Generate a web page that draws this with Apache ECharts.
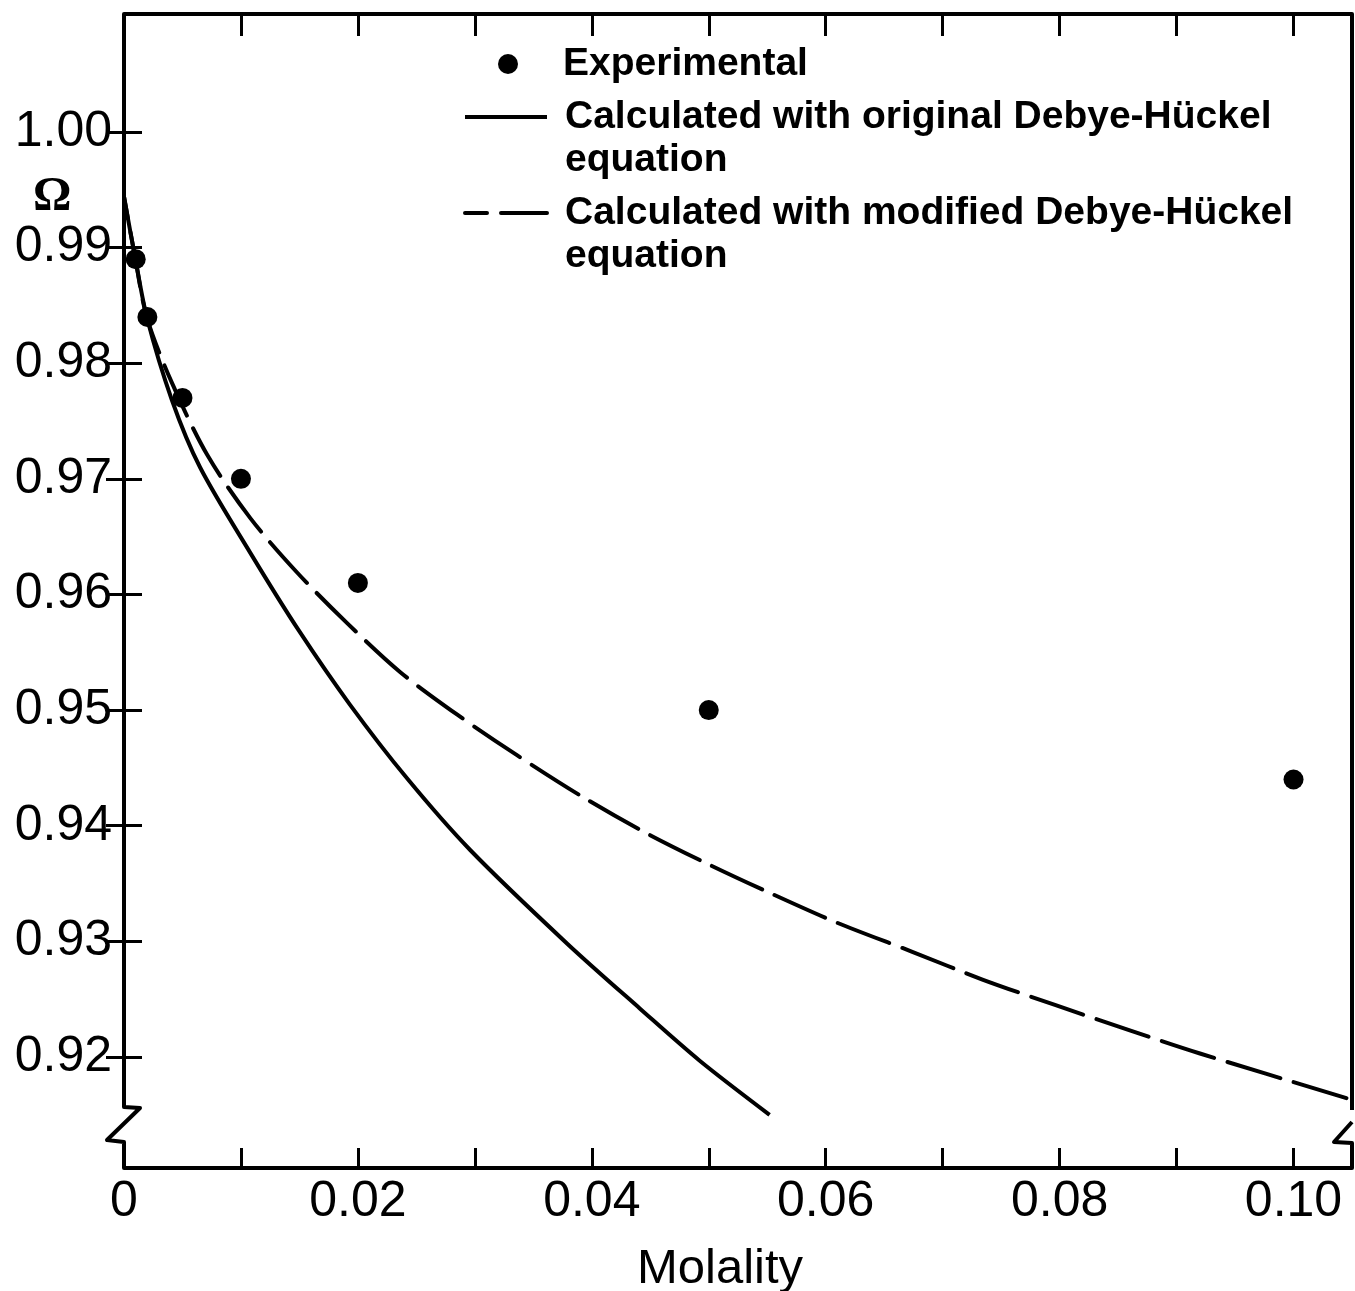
<!DOCTYPE html>
<html>
<head>
<meta charset="utf-8">
<title>Omega vs molality</title>
<script src="https://cdn.jsdelivr.net/npm/echarts@6/dist/echarts.min.js"></script>
<style>
  html, body { margin: 0; padding: 0; background: #fff; }
  #chart { width: 1355px; height: 1291px; }
</style>
</head>
<body>
<div id="chart"></div>
<script>
  // experimental points
  const molality = [0.001, 0.002, 0.005, 0.01, 0.02, 0.05, 0.10]
  const omegaExp = [0.989, 0.984, 0.977, 0.970, 0.961, 0.950, 0.944]

  // original Debye-Hückel curve
  const origX = [0, 0.00094, 0.00197, 0.0041, 0.0065, 0.0108, 0.0150, 0.0193, 0.0242, 0.0296, 0.0379, 0.0441, 0.0492, 0.0552]
  const origY = [0.9944, 0.9892, 0.9839, 0.9768, 0.9710, 0.9636, 0.9568, 0.9505, 0.9441, 0.9379, 0.9298, 0.9242, 0.9197, 0.9150]

  // modified Debye-Hückel curve
  const modX = [0, 0.00094, 0.00197, 0.0041, 0.0071, 0.0108, 0.0148, 0.0191, 0.0236, 0.0285, 0.0336, 0.0392, 0.0444, 0.0497, 0.0552, 0.0610, 0.0674, 0.0734, 0.0796, 0.0860, 0.0920, 0.1050]
  const modY = [0.9944, 0.9892, 0.9839, 0.9783, 0.9721, 0.9666, 0.9619, 0.9575, 0.9533, 0.9496, 0.9461, 0.9425, 0.9395, 0.9368, 0.9342, 0.9316, 0.9291, 0.9267, 0.9245, 0.9223, 0.9203, 0.9163]

  // ticks and labels
  const xTicks = [0, 0.01, 0.02, 0.03, 0.04, 0.05, 0.06, 0.07, 0.08, 0.09, 0.10]
  const xLabels = [0, 0.02, 0.04, 0.06, 0.08, 0.10]
  const yTicks = [0.92, 0.93, 0.94, 0.95, 0.96, 0.97, 0.98, 0.99, 1.00]

  const X_MIN = 0, X_MAX = 0.105
  const Y_MIN = 0.9104, Y_MAX = 1.0102

  const FONT = 'Liberation Sans, Arial, sans-serif'
  const pairs = (xs, ys) => xs.map((x, i) => [x, ys[i]])

  const chart = echarts.init(document.getElementById('chart'))

  const tickStyle = { color: '#000', width: 3 }
  const legendText = (padLeft) => ({
    fontFamily: FONT, fontSize: 39, fontWeight: 'bold', color: '#000',
    lineHeight: 43, padding: [0, 0, 0, padLeft],
  })
  // blank first line keeps the first text line level with the icon
  const twoLines = (name) => '\n' + name.replace(' equation', '\nequation')

  const option = {
    animation: false,
    backgroundColor: '#fff',
    grid: { left: 124, top: 14, right: 3, bottom: 123, containLabel: false, outerBoundsMode: 'none' },
    legend: [
      {
        data: ['Experimental'],
        left: 498, top: 42.5, padding: 0,
        itemWidth: 20, itemHeight: 20,
        textStyle: legendText(40),
      },
      {
        data: ['Calculated with original Debye-Hückel equation'],
        left: 463, top: 52.5, padding: 0,
        itemWidth: 82, itemHeight: 20,
        itemStyle: { opacity: 0 },
        lineStyle: { width: 4 },
        formatter: twoLines,
        textStyle: legendText(13),
      },
      {
        data: ['Calculated with modified Debye-Hückel equation'],
        left: 463, top: 148.5, padding: 0,
        itemWidth: 82, itemHeight: 20,
        itemStyle: { opacity: 0 },
        lineStyle: { width: 4 },
        formatter: twoLines,
        textStyle: legendText(13),
      },
    ],
    xAxis: [
      {
        type: 'value', position: 'bottom', min: X_MIN, max: X_MAX,
        name: 'Molality', nameLocation: 'middle', nameGap: 77,
        nameTextStyle: { fontFamily: FONT, fontSize: 49, color: '#000', padding: [0, 36, 0, 0] },
        axisLine: { show: true, lineStyle: { color: '#000', width: 4 } },
        axisTick: { show: true, inside: true, length: 20, customValues: xTicks, lineStyle: tickStyle },
        axisLabel: {
          customValues: xLabels, margin: 9, color: '#000', fontFamily: FONT, fontSize: 50,
          formatter: (v) => (v === 0 ? '0' : v.toFixed(2)),
        },
        splitLine: { show: false },
      },
      {
        type: 'value', position: 'top', min: X_MIN, max: X_MAX,
        axisLine: { show: true, lineStyle: { color: '#000', width: 4 } },
        axisTick: { show: true, inside: true, length: 22, customValues: xTicks, lineStyle: tickStyle },
        axisLabel: { show: false },
        splitLine: { show: false },
      },
    ],
    yAxis: [
      {
        type: 'value', position: 'left', min: Y_MIN, max: Y_MAX,
        axisLine: { show: false },
        axisTick: { show: true, inside: true, length: 18, customValues: yTicks, lineStyle: tickStyle },
        axisLabel: {
          customValues: yTicks, margin: 12, color: '#000', fontFamily: FONT, fontSize: 50,
          formatter: (v) => v.toFixed(2),
        },
        splitLine: { show: false },
      },
      {
        type: 'value', position: 'right', min: Y_MIN, max: Y_MAX,
        axisLine: { show: false },
        axisTick: { show: true, inside: true, length: 18, customValues: yTicks, lineStyle: tickStyle },
        axisLabel: { show: false },
        splitLine: { show: false },
      },
    ],
    series: [
      {
        name: 'Calculated with original Debye-Hückel equation',
        type: 'line',
        data: pairs(origX, origY),
        showSymbol: false, symbol: 'none',
        smooth: 0.3,
        lineStyle: { color: '#000', width: 4, join: 'round' },
        itemStyle: { color: '#000' },
        z: 2,
      },
      {
        name: 'Calculated with modified Debye-Hückel equation',
        type: 'line',
        data: pairs(modX, modY),
        showSymbol: false, symbol: 'none',
        smooth: 0.3,
        lineStyle: { color: '#000', width: 4, type: [55, 14], dashOffset: 33, cap: 'round', join: 'round' },
        itemStyle: { color: '#000' },
        z: 2,
      },
      {
        name: 'Experimental',
        type: 'scatter',
        data: pairs(molality, omegaExp),
        symbol: 'circle', symbolSize: 20,
        itemStyle: { color: '#000', opacity: 1 },
        z: 3,
      },
    ],
  }
  chart.setOption(option)

  // left / right axis lines with the break marks near the bottom
  const tl = chart.convertToPixel({ gridIndex: 0 }, [X_MIN, Y_MAX])
  const br = chart.convertToPixel({ gridIndex: 0 }, [X_MAX, Y_MIN])
  const ax0 = tl[0], ax1 = br[0], axTop = tl[1], axBot = br[1]
  const axisStroke = { stroke: '#000', lineWidth: 4, fill: null, lineJoin: 'round' }

  chart.setOption({
    graphic: [
      {
        type: 'polyline', silent: true, z: 10,
        shape: { points: [[ax0, axTop], [ax0, axBot - 61], [ax0 + 16, axBot - 60], [ax0 - 17, axBot - 28], [ax0, axBot - 26], [ax0, axBot]] },
        style: axisStroke,
      },
      {
        type: 'polyline', silent: true, z: 10,
        shape: { points: [[ax1, axTop], [ax1, axBot - 58]] },
        style: axisStroke,
      },
      {
        type: 'polyline', silent: true, z: 10,
        shape: { points: [[ax1, axBot - 46], [ax1 - 18, axBot - 26], [ax1, axBot - 25], [ax1, axBot]] },
        style: axisStroke,
      },
      {
        type: 'text', left: 33, top: 174, silent: true,
        style: { text: 'Ω', font: 'bold 48px "Liberation Serif", serif', fill: '#000' },
      },
    ],
  })
</script>
</body>
</html>
